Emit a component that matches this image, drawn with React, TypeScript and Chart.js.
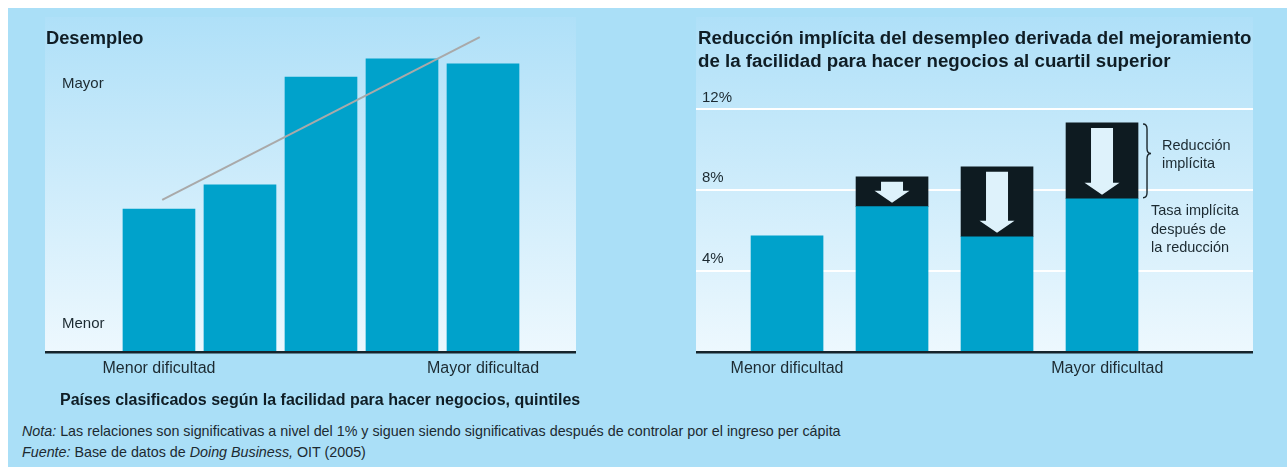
import React, { useEffect, useRef } from 'react';
import { Chart, registerables } from 'chart.js';

Chart.register(...registerables);

const FONT = "'Liberation Sans', Arial, sans-serif";
const TEXT = '#1c2a31';
const TITLE = '#0f1d25';
const BAR_BLUE = '#00a2cb';
const DARK = '#0e1b21';
const ARROW = '#def2fb';

// ---- Left chart data (unemployment by ease-of-doing-business quintile, relative units)
const leftQuintiles = [0, 1, 2, 3, 4];
const leftUnemployment = [42.7, 49.9, 82.1, 87.5, 86.0];
const leftTrendX = [0.04, 3.96];
const leftTrendY = [45.4, 94.0];
const leftYTickValues = [80, 8.4];
const leftYTickLabels = ['Mayor', 'Menor'];
const leftXTickValues = [0, 4];
const xTickLabels = ['Menor dificultad', 'Mayor dificultad'];

// ---- Right chart data (% unemployment, by quartile)
const rightQuartiles = [0, 1, 2, 3];
const rightAfterReduction = [5.75, 7.19, 5.7, 7.58];
const rightReduction = [null, 1.48, 3.46, 3.75];
const rightYTicks = [4, 8, 12];
const rightXTickValues = [0, 3.05];

const panelBg = {
  id: 'panelBg',
  beforeDraw(chart: any) {
    const { ctx, chartArea } = chart;
    const { left, top, right, bottom } = chartArea;
    const g = ctx.createLinearGradient(0, top, 0, bottom);
    g.addColorStop(0, '#afe0f8');
    g.addColorStop(1, '#edf8fe');
    ctx.save();
    ctx.fillStyle = g;
    ctx.fillRect(left, top, right - left, bottom - top);
    ctx.restore();
  },
};

const arrowsPlugin = {
  id: 'arrows',
  afterDatasetsDraw(chart: any) {
    const { ctx } = chart;
    const meta = chart.getDatasetMeta(1);
    ctx.save();
    let last: any = null;
    meta.data.forEach((el: any, i: number) => {
      if (rightReduction[i] == null) return;
      const { x, y, base } = el.getProps(['x', 'y', 'base'], true);
      last = { x, y, base };
      const top = y + 5;
      const tip = base - 4;
      const headH = 12;
      const shaftW = 22;
      const headW = 35;
      ctx.fillStyle = ARROW;
      ctx.beginPath();
      ctx.moveTo(x - shaftW / 2, top);
      ctx.lineTo(x + shaftW / 2, top);
      ctx.lineTo(x + shaftW / 2, tip - headH);
      ctx.lineTo(x + headW / 2, tip - headH);
      ctx.lineTo(x, tip);
      ctx.lineTo(x - headW / 2, tip - headH);
      ctx.lineTo(x - shaftW / 2, tip - headH);
      ctx.closePath();
      ctx.fill();
    });
    if (last) {
      const x0 = last.x + 36 + 5;
      const y1 = last.y + 1;
      const y2 = last.base - 1;
      const mid = y1 + (y2 - y1) * 0.4;
      ctx.strokeStyle = '#1a262c';
      ctx.lineWidth = 1.4;
      ctx.beginPath();
      ctx.moveTo(x0, y1);
      ctx.quadraticCurveTo(x0 + 4, y1, x0 + 4, y1 + 5);
      ctx.lineTo(x0 + 4, mid - 5);
      ctx.quadraticCurveTo(x0 + 4, mid, x0 + 8, mid);
      ctx.quadraticCurveTo(x0 + 4, mid, x0 + 4, mid + 5);
      ctx.lineTo(x0 + 4, y2 - 5);
      ctx.quadraticCurveTo(x0 + 4, y2, x0, y2);
      ctx.stroke();
    }
    ctx.restore();
  },
};

function xScale(min: number, max: number, tickValues: number[]) {
  return {
    type: 'linear',
    min,
    max,
    offset: false,
    stacked: true,
    afterBuildTicks: (scale: any) => {
      scale.ticks = tickValues.map((v) => ({ value: v }));
    },
    afterFit: (scale: any) => {
      scale.height = 40;
      scale.paddingLeft = 0;
      scale.paddingRight = 0;
    },
    grid: { display: false, drawTicks: false, offset: false },
    border: { display: true, color: '#15242c', width: 2.5, z: 1 },
    ticks: {
      padding: 7,
      color: TEXT,
      font: { family: FONT, size: 16 },
      maxRotation: 0,
      autoSkip: false,
      callback: (_v: any, i: number) => xTickLabels[i],
    },
  };
}

function LeftChart() {
  const ref = useRef<HTMLCanvasElement>(null);
  useEffect(() => {
    const chart = new Chart(ref.current as HTMLCanvasElement, {
      type: 'bar',
      data: {
        datasets: [
          {
            type: 'line',
            data: leftTrendX.map((x, i) => ({ x, y: leftTrendY[i] })),
            borderColor: '#a9a9a9',
            borderWidth: 2,
            pointRadius: 0,
            order: 0,
          } as any,
          {
            type: 'bar',
            data: leftQuintiles.map((q, i) => ({ x: q, y: leftUnemployment[i] })),
            backgroundColor: BAR_BLUE,
            barThickness: 72,
            order: 1,
          },
        ],
      },
      options: {
        animation: false,
        responsive: false,
        layout: { padding: 0 },
        plugins: { legend: { display: false }, tooltip: { enabled: false } },
        scales: {
          x: xScale(-1.407, 5.148, leftXTickValues) as any,
          y: {
            type: 'linear',
            min: 0,
            max: 100,
            afterBuildTicks: (scale: any) => {
              scale.ticks = leftYTickValues.map((v) => ({ value: v }));
            },
            afterFit: (scale: any) => {
              scale.width = 0;
              scale.paddingTop = 0;
              scale.paddingBottom = 0;
            },
            grid: { display: false, drawTicks: false },
            border: { display: false },
            ticks: {
              mirror: true,
              padding: 17,
              color: TEXT,
              font: { family: FONT, size: 15 },
              callback: (_v: any, i: number) => leftYTickLabels[i],
            },
          },
        },
      },
      plugins: [panelBg],
    });
    return () => chart.destroy();
  }, []);
  return (
    <canvas
      ref={ref}
      width={531}
      height={375}
      style={{ position: 'absolute', left: 45, top: 17, width: 531, height: 375 }}
    />
  );
}

function RightChart() {
  const ref = useRef<HTMLCanvasElement>(null);
  useEffect(() => {
    const chart = new Chart(ref.current as HTMLCanvasElement, {
      type: 'bar',
      data: {
        datasets: [
          {
            data: rightQuartiles.map((q, i) => ({ x: q, y: rightAfterReduction[i] })),
            backgroundColor: BAR_BLUE,
            barThickness: 72,
            stack: 's',
          },
          {
            data: rightQuartiles.map((q, i) => ({ x: q, y: rightReduction[i] })),
            backgroundColor: DARK,
            barThickness: 72,
            stack: 's',
          },
        ] as any,
      },
      options: {
        animation: false,
        responsive: false,
        layout: { padding: 0 },
        plugins: { legend: { display: false }, tooltip: { enabled: false } },
        scales: {
          x: xScale(-0.867, 4.438, rightXTickValues) as any,
          y: {
            type: 'linear',
            stacked: true,
            min: 0,
            max: 16.57,
            afterBuildTicks: (scale: any) => {
              scale.ticks = rightYTicks.map((v) => ({ value: v }));
            },
            afterFit: (scale: any) => {
              scale.width = 0;
              scale.paddingTop = 0;
              scale.paddingBottom = 0;
            },
            grid: { display: true, drawTicks: false, color: '#ffffff', lineWidth: 2 },
            border: { display: false },
            ticks: {
              mirror: true,
              padding: 6,
              labelOffset: -12,
              color: TEXT,
              font: { family: FONT, size: 15 },
              callback: (v: any) => `${v}%`,
            },
          },
        },
      },
      plugins: [panelBg, arrowsPlugin],
    });
    return () => chart.destroy();
  }, []);
  return (
    <canvas
      ref={ref}
      width={557}
      height={375}
      style={{ position: 'absolute', left: 696, top: 17, width: 557, height: 375 }}
    />
  );
}

const abs = (left: number, top: number, extra: any = {}) => ({
  position: 'absolute' as const,
  left,
  top,
  whiteSpace: 'nowrap' as const,
  fontFamily: FONT,
  ...extra,
});

export default function App() {
  return (
    <div
      style={{
        position: 'fixed',
        left: 0,
        top: 0,
        width: 1287,
        height: 467,
        background: '#ffffff',
        overflow: 'hidden',
      }}
    >
      <div
        style={{ position: 'absolute', left: 8, top: 8, width: 1279, height: 459, background: '#aadff7' }}
      />
      <LeftChart />
      <RightChart />
      <div style={abs(46, 27, { fontSize: 18.3, fontWeight: 700, lineHeight: '21px', color: TITLE })}>
        Desempleo
      </div>
      <div style={abs(698, 26, { fontSize: 18.7, fontWeight: 700, lineHeight: '23px', color: TITLE })}>
        Reducción implícita del desempleo derivada del mejoramiento
        <br />
        de la facilidad para hacer negocios al cuartil superior
      </div>
      <div style={abs(1162, 136, { fontSize: 14.5, lineHeight: '18px', color: TEXT })}>
        Reducción
        <br />
        implícita
      </div>
      <div style={abs(1151, 201, { fontSize: 14.5, lineHeight: '18.5px', color: TEXT })}>
        Tasa implícita
        <br />
        después de
        <br />
        la reducción
      </div>
      <div style={abs(60, 390, { fontSize: 16, fontWeight: 700, lineHeight: '20px', color: TITLE })}>
        Países clasificados según la facilidad para hacer negocios, quintiles
      </div>
      <div style={abs(22, 421, { fontSize: 14.3, lineHeight: '21px', color: TEXT })}>
        <i>Nota:</i> Las relaciones son significativas a nivel del 1% y siguen siendo significativas después
        de controlar por el ingreso per cápita
        <br />
        <i>Fuente:</i> Base de datos de <i>Doing Business,</i> OIT (2005)
      </div>
    </div>
  );
}
